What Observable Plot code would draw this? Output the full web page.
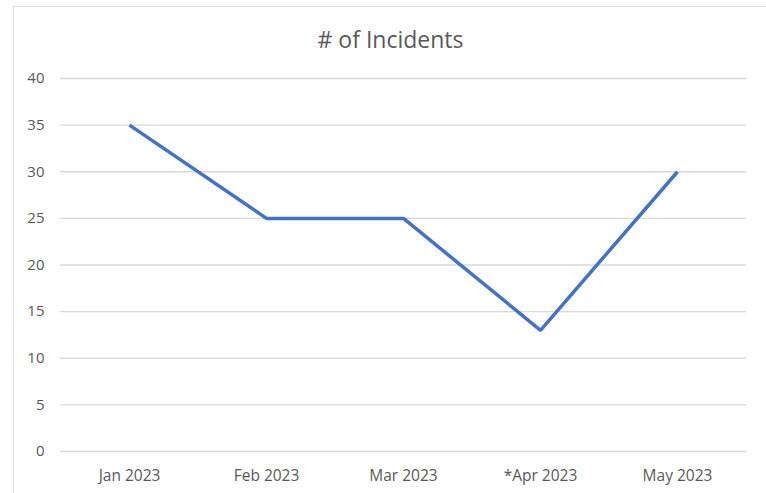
<!DOCTYPE html>
<html>
<head>
<meta charset="utf-8">
<script src="https://cdn.jsdelivr.net/npm/d3@7"></script>
<script src="https://cdn.jsdelivr.net/npm/@observablehq/plot@0.6"></script>
<style>
  html, body { margin: 0; padding: 0; background: #fff; }
  #wrap { position: relative; width: 766px; height: 493px; overflow: hidden; }
  #frame { position: absolute; left: 13px; top: 6px; width: 800px; height: 600px;
           border-left: 1px solid #d9d9d9; border-top: 1px solid #d9d9d9; box-sizing: border-box; }
  #chart { position: absolute; left: 0; top: 0; }
</style>
</head>
<body>
<div id="wrap"><div id="frame"></div><div id="chart"></div></div>
<script>
const months = ["Jan 2023", "Feb 2023", "Mar 2023", "*Apr 2023", "May 2023"];
const incidents = [35, 25, 25, 13, 30];
const yTicks = [0, 5, 10, 15, 20, 25, 30, 35, 40];
const title = "# of Incidents";

const data = months.map((m, i) => ({month: m, count: incidents[i]}));
const font = "'Open Sans', sans-serif";

const chart = Plot.plot({
  width: 766,
  height: 493,
  marginLeft: 60,
  marginRight: 20,
  marginTop: 78,
  marginBottom: 42,
  style: {fontFamily: font, fontSize: "15px", color: "#595959", background: "transparent"},
  x: {type: "point", domain: months, padding: 0.5, label: null},
  y: {domain: [0, 40], label: null},
  marks: [
    Plot.gridY(yTicks, {stroke: "#d9d9d9", strokeOpacity: 1, strokeWidth: 1.3}),
    Plot.axisY(yTicks, {tickSize: 0, tickPadding: 16, fill: "#595959", fontSize: 15}),
    Plot.axisX({tickSize: 0, tickPadding: 18, fill: "#595959", fontSize: 15.5}),
    Plot.line(data, {x: "month", y: "count", stroke: "#4472C4", strokeWidth: 3.5,
                     strokeLinejoin: "miter", strokeLinecap: "butt"}),
    Plot.text([title], {frameAnchor: "top", lineAnchor: "bottom", dy: -31, dx: -13,
                        fontSize: 23, fill: "#595959", fontFamily: font})
  ]
});
document.getElementById("chart").appendChild(chart);
</script>
</body>
</html>
